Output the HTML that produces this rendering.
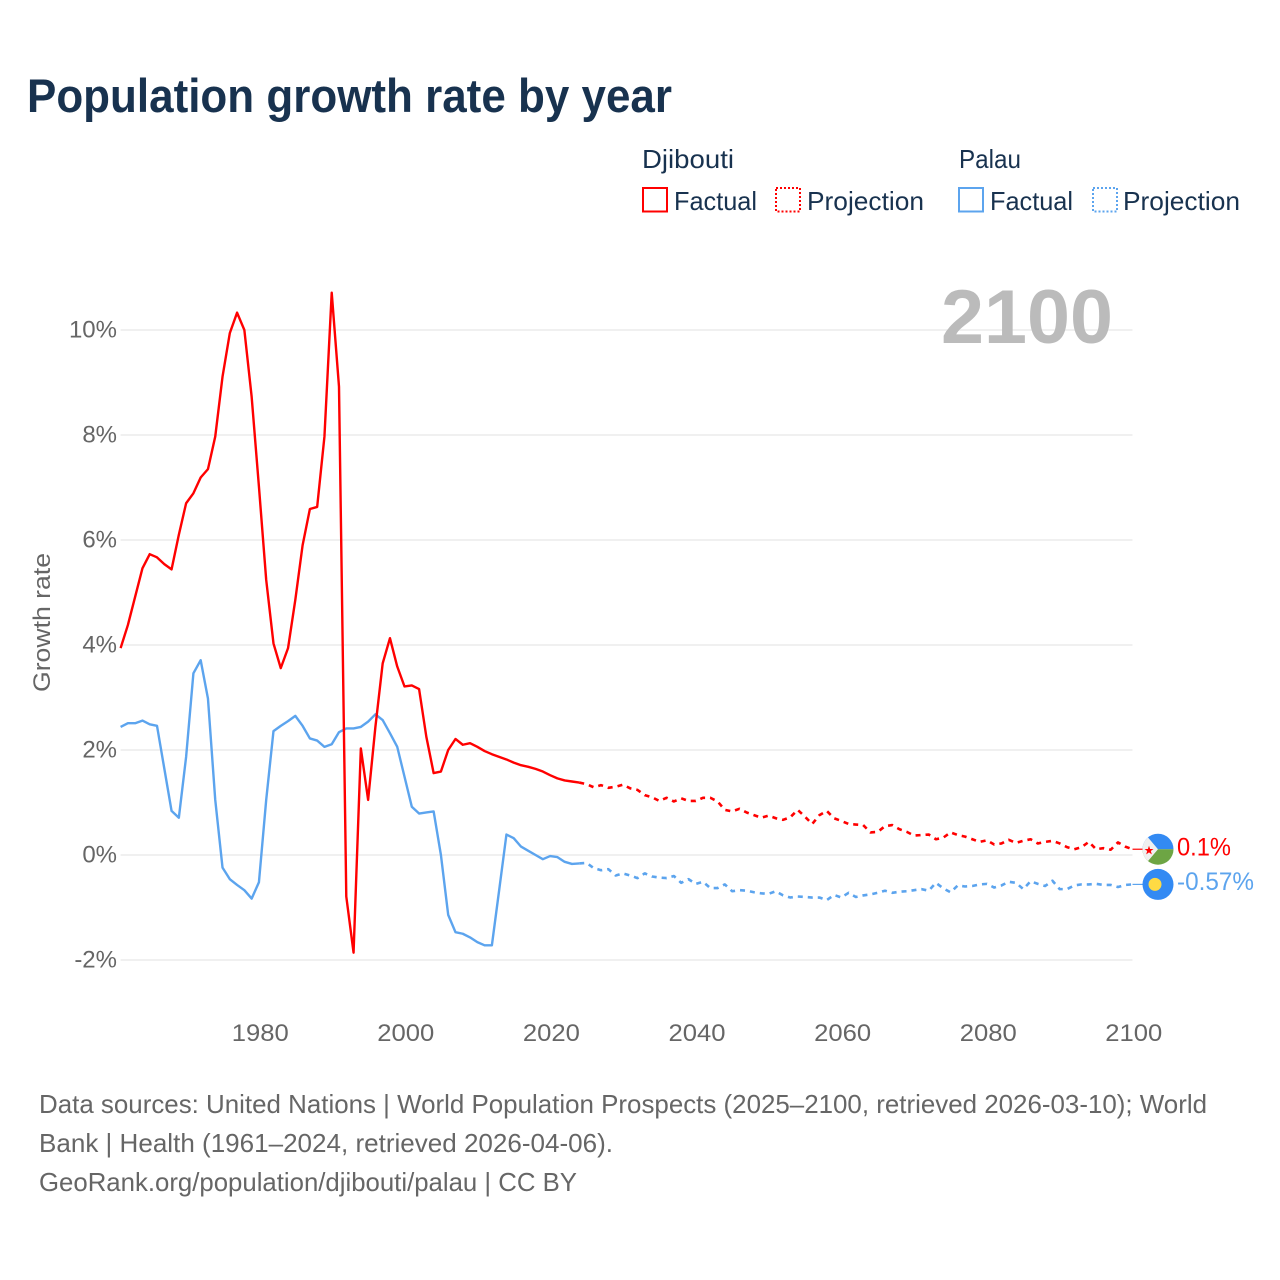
<!DOCTYPE html>
<html lang="en">
<head>
<meta charset="utf-8">
<title>Population growth rate by year</title>
<style>
html,body{margin:0;padding:0;background:#fff;}
svg{display:block;font-family:"Liberation Sans",sans-serif;}
</style>
</head>
<body>
<svg id="chart" width="1280" height="1280" viewBox="0 0 1280 1280" xmlns="http://www.w3.org/2000/svg">
  <rect width="1280" height="1280" fill="#fff"/>
  <text x="27" y="112" font-size="47" font-weight="700" fill="#18324f" textLength="645" lengthAdjust="spacingAndGlyphs">Population growth rate by year</text>

  <g font-size="26" fill="#18324f">
    <text x="642" y="168" textLength="92" lengthAdjust="spacingAndGlyphs">Djibouti</text>
    <rect x="643" y="188" width="24" height="23.500" fill="none" stroke="#ff0000" stroke-width="2"/>
    <text x="674" y="210" textLength="83" lengthAdjust="spacingAndGlyphs">Factual</text>
    <rect x="776" y="188" width="24" height="23.500" fill="none" stroke="#ff0000" stroke-width="2" stroke-dasharray="2 2"/>
    <text x="807" y="210" textLength="117" lengthAdjust="spacingAndGlyphs">Projection</text>
    <text x="959" y="168" textLength="62" lengthAdjust="spacingAndGlyphs">Palau</text>
    <rect x="959" y="188" width="24" height="23.500" fill="none" stroke="#5ca4ee" stroke-width="2"/>
    <text x="990" y="210" textLength="83" lengthAdjust="spacingAndGlyphs">Factual</text>
    <rect x="1093" y="188" width="24" height="23.500" fill="none" stroke="#5ca4ee" stroke-width="2" stroke-dasharray="2 2"/>
    <text x="1123" y="210" textLength="117" lengthAdjust="spacingAndGlyphs">Projection</text>
  </g>

  <g id="grid"></g>
  <g id="yticks" font-size="24" fill="#666"></g>
  <g id="xticks" font-size="24" fill="#666"></g>
  <text transform="translate(50,622.500) rotate(-90)" text-anchor="middle" font-size="24" fill="#666" textLength="139" lengthAdjust="spacingAndGlyphs">Growth rate</text>

  <text x="941" y="343" font-size="76" font-weight="700" fill="#bbbbbb" textLength="172" lengthAdjust="spacingAndGlyphs">2100</text>

  <g id="series"></g>

  <defs>
    <clipPath id="clip-dj"><circle cx="0" cy="0" r="15.500"/></clipPath>
    <clipPath id="clip-pw"><circle cx="0" cy="0" r="15.500"/></clipPath>
  </defs>
  <g id="flag-dj">
    <g clip-path="url(#clip-dj)">
      <rect x="-16" y="-16" width="32" height="16" fill="#338af3"/>
      <rect x="-16" y="0" width="32" height="16" fill="#6da544"/>
      <polygon points="-11,-13 0,0 -11,13 -16,13 -16,-13" fill="#f0f0f0"/>
    </g>
    <polygon points="-9,-4.500 -7.900,-1.200 -4.500,-1.200 -7.200,0.800 -6.200,4.200 -9,2.200 -11.800,4.200 -10.800,0.800 -13.500,-1.200 -10.100,-1.200" fill="#ff0000" transform="translate(0,1)"/>
  </g>
  <g id="flag-pw">
    <circle cx="0" cy="0" r="15.500" fill="#338af3"/>
    <circle cx="-3" cy="0" r="6.500" fill="#ffda44"/>
  </g>
  <text id="end-dj" x="1177" font-size="25" fill="#ff0000" textLength="54" lengthAdjust="spacingAndGlyphs"></text>
  <text id="end-pw" x="1177" font-size="25" fill="#5ca4ee" textLength="77" lengthAdjust="spacingAndGlyphs"></text>

  <g font-size="26" fill="#666">
    <text x="39" y="1113" textLength="1168" lengthAdjust="spacingAndGlyphs">Data sources: United Nations | World Population Prospects (2025–2100, retrieved 2026-03-10); World</text>
    <text x="39" y="1152" textLength="574" lengthAdjust="spacingAndGlyphs">Bank | Health (1961–2024, retrieved 2026-04-06).</text>
    <text x="39" y="1191" textLength="538" lengthAdjust="spacingAndGlyphs">GeoRank.org/population/djibouti/palau | CC BY</text>
  </g>
</svg>

<script>
var yTickValues = [10, 8, 6, 4, 2, 0, -2];
var xTickYears = [1980, 2000, 2020, 2040, 2060, 2080, 2100];
var factualStartYear = 1961;
var projectionStartYear = 2024;

var djiboutiFactual = [3.94,4.38,4.92,5.46,5.73,5.67,5.54,5.44,6.10,6.70,6.89,7.19,7.35,7.97,9.11,9.94,10.33,10.0,8.73,7.02,5.24,4.03,3.56,3.94,4.86,5.90,6.59,6.63,7.97,10.71,8.92,-0.79,-1.86,2.03,1.05,2.44,3.65,4.13,3.59,3.21,3.23,3.16,2.25,1.56,1.59,2.0,2.21,2.10,2.13,2.06,1.98,1.92,1.87,1.82,1.76,1.71,1.68,1.64,1.59,1.52,1.46,1.42,1.40,1.38];
var djiboutiProjection = [1.38,1.35,1.29,1.33,1.28,1.30,1.34,1.27,1.24,1.14,1.10,1.03,1.09,1.02,1.08,1.03,1.03,1.09,1.09,1.02,0.86,0.83,0.88,0.81,0.76,0.71,0.75,0.70,0.67,0.72,0.86,0.73,0.59,0.76,0.84,0.70,0.65,0.59,0.58,0.57,0.43,0.44,0.55,0.57,0.49,0.44,0.37,0.38,0.39,0.30,0.33,0.43,0.38,0.35,0.30,0.25,0.28,0.20,0.22,0.29,0.23,0.27,0.30,0.22,0.25,0.27,0.22,0.15,0.11,0.15,0.25,0.11,0.13,0.10,0.24,0.16,0.11];
var palauFactual = [2.44,2.51,2.51,2.56,2.49,2.46,1.65,0.84,0.71,1.87,3.46,3.71,2.98,1.05,-0.24,-0.46,-0.57,-0.67,-0.83,-0.52,1.05,2.36,2.46,2.55,2.65,2.46,2.22,2.18,2.06,2.11,2.34,2.41,2.41,2.44,2.54,2.68,2.57,2.32,2.06,1.49,0.92,0.79,0.81,0.83,0.0,-1.14,-1.47,-1.50,-1.57,-1.66,-1.72,-1.72,-0.67,0.39,0.32,0.16,0.08,0.0,-0.08,-0.02,-0.04,-0.13,-0.17,-0.16];
var palauProjection = [-0.16,-0.15,-0.25,-0.29,-0.27,-0.39,-0.35,-0.39,-0.44,-0.35,-0.41,-0.43,-0.44,-0.40,-0.53,-0.46,-0.55,-0.51,-0.63,-0.63,-0.56,-0.69,-0.67,-0.68,-0.71,-0.73,-0.74,-0.69,-0.77,-0.81,-0.79,-0.80,-0.81,-0.81,-0.86,-0.76,-0.81,-0.72,-0.80,-0.77,-0.75,-0.72,-0.68,-0.72,-0.70,-0.69,-0.67,-0.65,-0.68,-0.53,-0.635,-0.71,-0.58,-0.60,-0.59,-0.56,-0.55,-0.62,-0.58,-0.51,-0.53,-0.65,-0.50,-0.55,-0.59,-0.49,-0.65,-0.65,-0.58,-0.56,-0.56,-0.55,-0.57,-0.57,-0.61,-0.57,-0.56];
var djiboutiEndLabel = "0.1%";
var palauEndLabel = "-0.57%";

var NS = "http://www.w3.org/2000/svg";
function xAt(year){ return 120.6 + (year - 1961) * 7.28; }
function yAt(v){ return 855 - v * 52.5; }
function make(tag, parentId){
  var el = document.createElementNS(NS, tag);
  document.getElementById(parentId).appendChild(el);
  return el;
}
function pathFor(values, start){
  var s = "";
  for (var i = 0; i < values.length; i++){
    s += (i ? "L" : "M") + xAt(start + i).toFixed(2) + " " + yAt(values[i]).toFixed(2);
  }
  return s;
}

yTickValues.forEach(function(v){
  var line = make("line", "grid");
  
  
  line.setAttribute("x1", xAt(1961));
  line.setAttribute("x2", xAt(2100));
  line.setAttribute("y1", yAt(v));
  line.setAttribute("y2", yAt(v));
  line.setAttribute("stroke", "#ececec");
  line.setAttribute("stroke-width", "1.5");
  var t = make("text", "yticks");
  
  
  t.setAttribute("x", 117);
  t.setAttribute("y", yAt(v) + 7.5);
  t.setAttribute("text-anchor", "end");
  t.textContent = v + "%";
});

xTickYears.forEach(function(year){
  var t = make("text", "xticks");
  
  
  t.setAttribute("x", xAt(year) + 1.3);
  t.setAttribute("y", 1041);
  t.setAttribute("text-anchor", "middle");
  t.setAttribute("textLength", 57);
  t.setAttribute("lengthAdjust", "spacingAndGlyphs");
  t.textContent = year;
});

function addLine(values, start, color, dashed, name){
  var p = make("path", "series");
  
  
  p.setAttribute("d", pathFor(values, start));
  p.setAttribute("fill", "none");
  p.setAttribute("stroke", color);
  p.setAttribute("stroke-width", dashed ? "2.6" : "2.4");
  p.setAttribute("stroke-linejoin", "round");
  if (dashed) p.setAttribute("stroke-dasharray", "5 5");
}
addLine(palauFactual, factualStartYear, "#5ca4ee", false, "palau-factual-line");
addLine(palauProjection, projectionStartYear, "#5ca4ee", true, "palau-projection-line");
addLine(djiboutiFactual, factualStartYear, "#ff0000", false, "djibouti-factual-line");
addLine(djiboutiProjection, projectionStartYear, "#ff0000", true, "djibouti-projection-line");

function addEnd(values, color, flagId, labelId, text, connectorName, labelOffset){
  var last = values[values.length - 1];
  var yy = yAt(last);
  var c = make("line", "series");
  
  
  c.setAttribute("x1", xAt(2100));
  c.setAttribute("x2", 1143);
  c.setAttribute("y1", yy);
  c.setAttribute("y2", yy);
  c.setAttribute("stroke", color);
  c.setAttribute("stroke-width", "1.2");
  document.getElementById(flagId).setAttribute("transform", "translate(1158," + yy.toFixed(2) + ")");
  var lab = document.getElementById(labelId);
  lab.setAttribute("y", (yy + labelOffset).toFixed(2));
  lab.textContent = text;
}
addEnd(djiboutiProjection, "#ff0000", "flag-dj", "end-dj", djiboutiEndLabel, "djibouti-end-connector", 6.5);
addEnd(palauProjection, "#5ca4ee", "flag-pw", "end-pw", palauEndLabel, "palau-end-connector", 5.5);
</script>
</body>
</html>
